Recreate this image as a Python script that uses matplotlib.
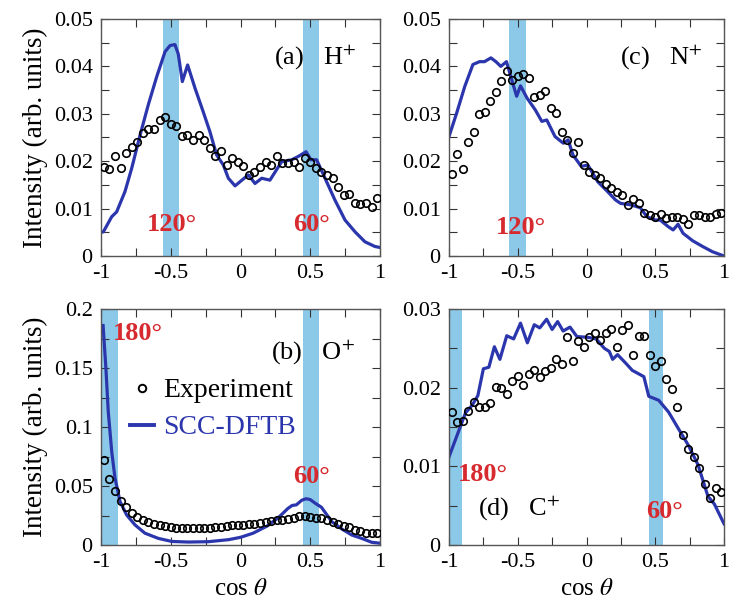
import matplotlib
matplotlib.use("Agg")
import matplotlib.pyplot as plt
from matplotlib.lines import Line2D

plt.rcParams["font.family"] = "serif"
plt.rcParams["font.serif"] = ["Liberation Serif", "DejaVu Serif"]
plt.rcParams["mathtext.fontset"] = "stix"

# Experimental bin centres (cos theta)
bins = [-0.98, -0.94, -0.90, -0.86, -0.82, -0.78, -0.74, -0.70, -0.66, -0.62,
        -0.58, -0.54, -0.50, -0.46, -0.42, -0.38, -0.34, -0.30, -0.26, -0.22,
        -0.18, -0.14, -0.10, -0.06, -0.02, 0.02, 0.06, 0.10, 0.14, 0.18,
        0.22, 0.26, 0.30, 0.34, 0.38, 0.42, 0.46, 0.50, 0.54, 0.58,
        0.62, 0.66, 0.70, 0.74, 0.78, 0.82, 0.86, 0.90, 0.94, 0.98]

# (a) H+
h_exp = [0.0188, 0.0184, 0.0210, 0.0186, 0.0217, 0.0230, 0.0241, 0.0259, 0.0267, 0.0268,
         0.0287, 0.0294, 0.0278, 0.0275, 0.0254, 0.0256, 0.0245, 0.0256, 0.0245, 0.0227,
         0.0212, 0.0222, 0.0193, 0.0206, 0.0198, 0.0190, 0.0171, 0.0178, 0.0188, 0.0199,
         0.0192, 0.0212, 0.0196, 0.0196, 0.0199, 0.0188, 0.0206, 0.0199, 0.0185, 0.0178,
         0.0171, 0.0164, 0.0146, 0.0129, 0.0130, 0.0111, 0.0110, 0.0111, 0.0104, 0.0122]
h_sim_x = [-1.0, -0.983, -0.923, -0.888, -0.828, -0.78, -0.72, -0.661, -0.601, -0.541,
           -0.505, -0.47, -0.446, -0.417, -0.379, -0.326, -0.267, -0.219, -0.171, -0.123,
           -0.087, -0.039, 0.01, 0.056, 0.104, 0.152, 0.211, 0.295, 0.367, 0.414,
           0.47, 0.505, 0.546, 0.606, 0.677, 0.749, 0.821, 0.892, 0.964, 1.0]
h_sim_y = [0.0050, 0.0051, 0.0083, 0.0093, 0.0136, 0.0185, 0.0255, 0.0319, 0.0378, 0.0431,
           0.0444, 0.0446, 0.0426, 0.0368, 0.0403, 0.0354, 0.0304, 0.0262, 0.0213, 0.0192,
           0.0164, 0.0148, 0.0160, 0.0171, 0.0153, 0.0164, 0.0160, 0.0199, 0.0203, 0.0210,
           0.0220, 0.0203, 0.0203, 0.0164, 0.0118, 0.0076, 0.0051, 0.0030, 0.0020, 0.0018]

# (c) N+
n_exp = [0.0172, 0.0215, 0.0183, 0.0240, 0.0262, 0.0300, 0.0304, 0.0326, 0.0345, 0.0369,
         0.0390, 0.0371, 0.0380, 0.0385, 0.0375, 0.0336, 0.0340, 0.0349, 0.0313, 0.0301,
         0.0261, 0.0245, 0.0217, 0.0240, 0.0193, 0.0178, 0.0171, 0.0164, 0.0151, 0.0143,
         0.0136, 0.0129, 0.0108, 0.0120, 0.0111, 0.0090, 0.0087, 0.0083, 0.0089, 0.0081,
         0.0083, 0.0083, 0.0079, 0.0068, 0.0087, 0.0087, 0.0083, 0.0083, 0.0088, 0.0090]
n_sim_x = [-1.0, -0.945, -0.885, -0.826, -0.778, -0.742, -0.695, -0.659, -0.623, -0.582,
           -0.551, -0.508, -0.48, -0.432, -0.372, -0.325, -0.289, -0.229, -0.169, -0.134,
           -0.098, -0.038, 0.01, 0.081, 0.153, 0.212, 0.248, 0.32, 0.391, 0.439,
           0.499, 0.535, 0.594, 0.63, 0.666, 0.702, 0.773, 0.845, 0.916, 1.0]
n_sim_y = [0.0252, 0.0301, 0.0358, 0.0404, 0.0410, 0.0410, 0.0418, 0.0410, 0.0400, 0.0410,
           0.0379, 0.0337, 0.0359, 0.0333, 0.0308, 0.0284, 0.0287, 0.0252, 0.0238, 0.0245,
           0.0213, 0.0189, 0.0192, 0.0157, 0.0136, 0.0118, 0.0111, 0.0108, 0.0102, 0.0083,
           0.0076, 0.0076, 0.0062, 0.0055, 0.0067, 0.0048, 0.0032, 0.0020, 0.0009, 0.0000]

# (b) O+
o_exp = [0.0720, 0.0560, 0.0460, 0.0370, 0.0325, 0.0270, 0.0240, 0.0212, 0.0192, 0.0178,
         0.0166, 0.0158, 0.0153, 0.0147, 0.0141, 0.0147, 0.0141, 0.0147, 0.0147, 0.0147,
         0.0155, 0.0155, 0.0160, 0.0169, 0.0169, 0.0172, 0.0175, 0.0180, 0.0190, 0.0198,
         0.0205, 0.0210, 0.0215, 0.0220, 0.0228, 0.0248, 0.0242, 0.0238, 0.0232, 0.0225,
         0.0210, 0.0195, 0.0180, 0.0165, 0.0150, 0.0130, 0.0115, 0.0105, 0.0102, 0.0100]
o_sim_x = [-0.985, -0.965, -0.948, -0.923, -0.90, -0.864, -0.816, -0.756, -0.685, -0.589,
           -0.493, -0.374, -0.231, -0.087, 0.0, 0.09, 0.19, 0.27, 0.34, 0.37,
           0.40, 0.44, 0.47, 0.50, 0.534, 0.58, 0.654, 0.726, 0.797, 0.869, 0.94, 1.0]
o_sim_y = [0.186, 0.150, 0.113, 0.079, 0.057, 0.037, 0.0254, 0.017, 0.010, 0.0056,
           0.0030, 0.0025, 0.0028, 0.0045, 0.0065, 0.010, 0.016, 0.023, 0.031, 0.0335,
           0.034, 0.038, 0.0392, 0.0385, 0.0355, 0.032, 0.0198, 0.0136, 0.0085, 0.0056, 0.0023, 0.0015]

# (d) C+
c_exp = [0.0169, 0.0156, 0.0158, 0.0170, 0.0182, 0.0176, 0.0176, 0.0181, 0.0201, 0.0199,
         0.0192, 0.0208, 0.0215, 0.0203, 0.0218, 0.0222, 0.0214, 0.0221, 0.0225, 0.0236,
         0.0230, 0.0264, 0.0234, 0.0259, 0.0252, 0.0265, 0.0269, 0.0260, 0.0270, 0.0274,
         0.0252, 0.0273, 0.0280, 0.0242, 0.0266, 0.0266, 0.0242, 0.0228, 0.0234, 0.0211,
         0.0198, 0.0175, 0.0140, 0.0122, 0.0112, 0.0098, 0.0078, 0.0060, 0.0073, 0.0067]
c_sim_x = [-1.0, -0.94, -0.88, -0.83, -0.79, -0.75, -0.71, -0.67, -0.63, -0.58,
           -0.53, -0.48, -0.43, -0.38, -0.34, -0.29, -0.25, -0.21, -0.17, -0.12,
           -0.07, 0.01, 0.07, 0.13, 0.166, 0.19, 0.226, 0.286, 0.333, 0.417,
           0.453, 0.525, 0.597, 0.668, 0.74, 0.811, 0.883, 0.93, 1.0]
c_sim_y = [0.0112, 0.0140, 0.0168, 0.0178, 0.0190, 0.0224, 0.0226, 0.0252, 0.0236, 0.0266,
           0.0262, 0.0282, 0.0257, 0.0280, 0.0276, 0.0287, 0.0274, 0.0284, 0.0272, 0.0277,
           0.0265, 0.0264, 0.0262, 0.0250, 0.0246, 0.0236, 0.0242, 0.0231, 0.0222, 0.0214,
           0.0189, 0.0184, 0.0169, 0.0148, 0.0127, 0.0102, 0.0062, 0.0052, 0.0027]

band_color = "#8cc9e8"
line_color = "#2b36ad"
red = "#d62a2f"

fig = plt.figure(figsize=(7.29, 6.09), dpi=100)
ax_a = fig.add_axes([101 / 729, 1 - 256 / 609, 279 / 729, 237 / 609])
ax_c = fig.add_axes([449 / 729, 1 - 256 / 609, 275 / 729, 237 / 609])
ax_b = fig.add_axes([101 / 729, 1 - 545 / 609, 279 / 729, 236 / 609])
ax_d = fig.add_axes([449 / 729, 1 - 545 / 609, 275 / 729, 236 / 609])


def fmt(v):
    s = ("%.3f" % v).rstrip("0").rstrip(".")
    return "0" if s in ("0", "-0") else s


def style(ax, ymax, ystep, ylabel_every):
    ax.set_xlim(-1, 1)
    ax.set_ylim(0, ymax)
    xt = [-1, -0.75, -0.5, -0.25, 0, 0.25, 0.5, 0.75, 1]
    ax.set_xticks(xt)
    ax.set_xticklabels([fmt(v) if abs(v * 2 - round(v * 2)) < 1e-9 else "" for v in xt])
    n = int(round(ymax / ystep))
    yt = [i * ystep for i in range(n + 1)]
    ax.set_yticks(yt)
    ax.set_yticklabels([fmt(v) if i % ylabel_every == 0 else "" for i, v in enumerate(yt)])
    ax.tick_params(direction="in", top=True, right=True, length=5.5, width=0.8,
                   labelsize=16, pad=6, colors="#333333", labelcolor="black")
    for sp in ax.spines.values():
        sp.set_color("#555555")
        sp.set_linewidth(1.0)


def draw(ax, exp, sx, sy, bands):
    for lo, hi in bands:
        ax.axvspan(lo, hi, color=band_color, lw=0, zorder=0)
    ax.plot(sx, sy, color=line_color, lw=2.3, zorder=2)
    ax.plot(bins, exp, "o", mfc="none", mec="black", ms=5.4, mew=1.2, zorder=3)


lab = dict(color=red, fontsize=19, fontweight="bold", va="center")

draw(ax_a, h_exp, h_sim_x, h_sim_y, [(-0.555, -0.44), (0.445, 0.56)])
style(ax_a, 0.05, 0.005, 2)
ax_a.text(0.24, 0.042, r"(a)   H$^{+}$", fontsize=19, va="center")
ax_a.text(-0.49, 0.0066, "120°", ha="center", **lab)
ax_a.text(0.51, 0.0066, "60°", ha="center", **lab)

draw(ax_c, n_exp, n_sim_x, n_sim_y, [(-0.563, -0.443)])
style(ax_c, 0.05, 0.005, 2)
ax_c.text(0.24, 0.042, r"(c)   N$^{+}$", fontsize=19, va="center")
ax_c.text(-0.48, 0.0061, "120°", ha="center", **lab)

draw(ax_b, o_exp, o_sim_x, o_sim_y, [(-1.0, -0.875), (0.45, 0.565)])
style(ax_b, 0.2, 0.025, 2)
ax_b.text(0.22, 0.164, r"(b)   O$^{+}$", fontsize=19, va="center")
ax_b.text(-0.915, 0.179, "180°", ha="left", **lab)
ax_b.text(0.51, 0.058, "60°", ha="center", **lab)
handles = [Line2D([], [], ls="none", marker="o", mfc="none", mec="black", ms=5.4, mew=1.4),
           Line2D([], [], color=line_color, lw=2.8)]
leg = ax_b.legend(handles, ["Experiment", "SCC-DFTB"], loc="upper left",
                  bbox_to_anchor=(0.065, 0.755), frameon=False, fontsize=20,
                  handlelength=0.85, handletextpad=0.35, labelspacing=0.42, borderaxespad=0)
leg.get_texts()[1].set_color(line_color)

draw(ax_d, c_exp, c_sim_x, c_sim_y, [(-1.0, -0.902), (0.453, 0.556)])
style(ax_d, 0.03, 0.005, 2)
ax_d.text(-0.79, 0.0047, r"(d)   C$^{+}$", fontsize=19, va="center")
ax_d.text(-0.755, 0.0089, "180°", ha="center", **lab)
ax_d.text(0.57, 0.0042, "60°", ha="center", **lab)

for ax in (ax_a, ax_b):
    ax.set_ylabel("Intensity (arb. units)", fontsize=19.5, labelpad=4)
for ax in (ax_b, ax_d):
    ax.set_xlabel(r"cos $\theta$", fontsize=18, labelpad=4)

fig.savefig("out.png", dpi=100)
